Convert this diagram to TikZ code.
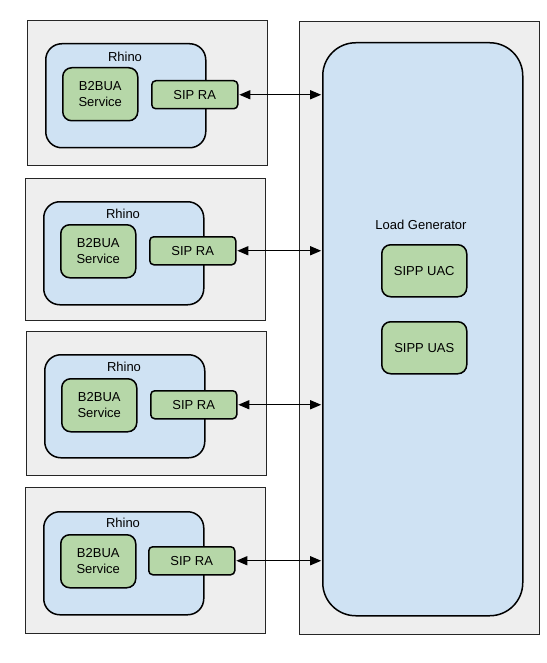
\documentclass[tikz,border=0pt]{standalone}
\usepackage{fontspec}
\setmainfont{Liberation Sans}
\usetikzlibrary{arrows.meta}
\definecolor{outerg}{HTML}{EEEEEE}
\definecolor{rblue}{HTML}{CFE2F3}
\definecolor{sgreen}{HTML}{B6D7A8}
\begin{document}
\begin{tikzpicture}[x=1pt,y=-1pt,
  every node/.style={font=\fontsize{13}{15.5}\selectfont},
  outerbox/.style={draw=black!85, fill=outerg, line width=1.1pt, anchor=north west, inner sep=0pt},
  rhinobox/.style={draw, fill=rblue, line width=1.5pt, rounded corners=16pt, anchor=north west, inner sep=0pt, minimum width=160pt, minimum height=103pt},
  svcbox/.style={draw, fill=sgreen, line width=1.5pt, rounded corners=9pt, anchor=north west, inner sep=0pt, align=center, minimum width=75pt, minimum height=53pt},
  sipbox/.style={draw, fill=sgreen, line width=1.5pt, rounded corners=4pt, anchor=north west, inner sep=0pt, minimum width=86pt, minimum height=28pt},
  sippbox/.style={draw, fill=sgreen, line width=1.5pt, rounded corners=9pt, anchor=north west, inner sep=0pt, minimum width=85pt, minimum height=52pt},
  lbl/.style={inner sep=0pt},
  arr/.style={{Triangle[length=11pt,width=9pt]}-{Triangle[length=11pt,width=9pt]}, line width=1.3pt, shorten <=0.8pt, shorten >=0.8pt}
]
\useasboundingbox (0,0) rectangle (546,663);
% Load generator
\node[outerbox, minimum width=240pt, minimum height=613pt] (lgo) at (299,21) {};
\node[draw, fill=rblue, line width=1.5pt, rounded corners=33pt, anchor=north west, inner sep=0pt, minimum width=200pt, minimum height=573pt] (lg) at (322,42) {};
\node[lbl] (lgl) at (421,225) {Load Generator};
\node[sippbox] (uac) at (381,244) {SIPP UAC};
\node[sippbox] (uas) at (381,321) {SIPP UAS};
% Box 1
\node[outerbox, minimum width=240pt, minimum height=145pt] (o1) at (27,20) {};
\node[rhinobox, minimum height=104pt] (r1) at (45,43) {};
\node[lbl] (rl1) at (125,57) {Rhino};
\node[svcbox] (b1) at (62,67) {B2BUA\\Service};
\node[sipbox] (s1) at (151,80) {SIP RA};
% Box 2
\node[outerbox, minimum width=240pt, minimum height=142pt] (o2) at (25,178) {};
\node[rhinobox] (r2) at (43,201) {};
\node[lbl] (rl2) at (123,214) {Rhino};
\node[svcbox] (b2) at (60,224) {B2BUA\\Service};
\node[sipbox] (s2) at (149,236) {SIP RA};
% Box 3
\node[outerbox, minimum width=240pt, minimum height=144pt] (o3) at (26,331) {};
\node[rhinobox] (r3) at (44,354) {};
\node[lbl] (rl3) at (124,367) {Rhino};
\node[svcbox] (b3) at (61,378) {B2BUA\\Service};
\node[sipbox] (s3) at (150,390) {SIP RA};
% Box 4
\node[outerbox, minimum width=240pt, minimum height=146pt] (o4) at (25,487) {};
\node[rhinobox] (r4) at (43,511) {};
\node[lbl] (rl4) at (123,523) {Rhino};
\node[svcbox] (b4) at (60,534) {B2BUA\\Service};
\node[sipbox] (s4) at (148,546) {SIP RA};
% arrows
\foreach \i in {1,2,3,4}{
  \draw[arr] (s\i.east) -- (s\i.east -| lg.west);
}
\end{tikzpicture}
\end{document}
